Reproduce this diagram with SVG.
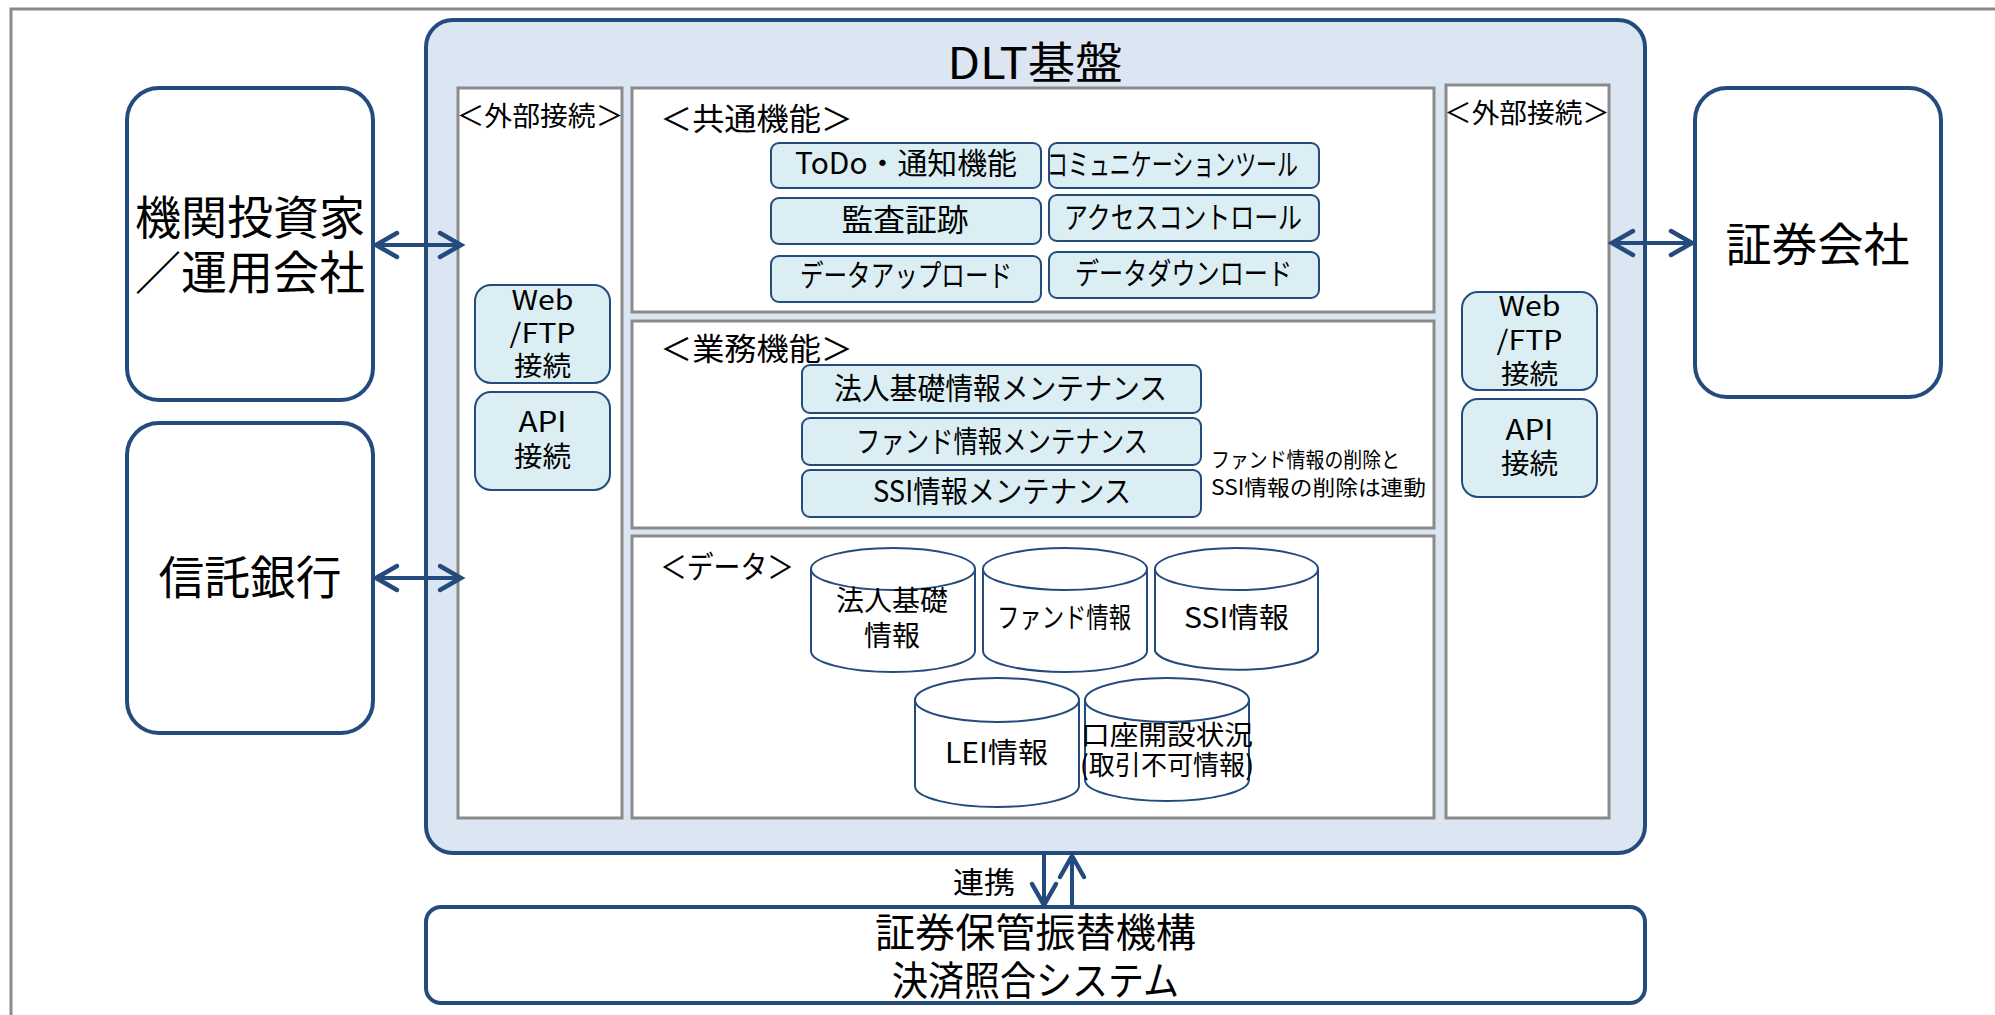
<svg xmlns="http://www.w3.org/2000/svg" width="1995" height="1015" viewBox="0 0 1995 1015">
<style>
text{font-family:"Noto Sans CJK JP","Noto Sans",sans-serif;fill:#000;dominant-baseline:central;text-anchor:middle}
.s{text-anchor:start}
.node{fill:#fff;stroke:#244b7e;stroke-width:4}
.dlt{fill:#dce6f2;stroke:#244b7e;stroke-width:4}
.sect{fill:#fff;stroke:#8a8a8a;stroke-width:3}
.fn{fill:#dbeef4;stroke:#244b7e;stroke-width:2}
.cyl{fill:#fff;stroke:#244b7e;stroke-width:2}
.conn{fill:none;stroke:#244b7e;stroke-width:4}
</style>
<defs>
<marker id="ah" markerUnits="userSpaceOnUse" markerWidth="30" markerHeight="30" refX="22" refY="13" orient="auto-start-reverse" overflow="visible">
<path d="M1,1 L22,13 L1,25" fill="none" stroke="#244b7e" stroke-width="4.5" stroke-linecap="round" stroke-linejoin="miter"/>
</marker>
</defs>
<rect x="11" y="9" width="2000" height="1020" fill="#fff" stroke="#8a8a8a" stroke-width="3"/>

<g id="dlt">
<rect class="dlt" x="426" y="20" width="1219" height="833" rx="27"/>
<text x="1035" y="60" font-size="44" textLength="175" lengthAdjust="spacingAndGlyphs">DLT基盤</text>
</g>

<g id="ext-left">
<rect class="sect" x="458" y="88" width="164" height="730"/>
<text x="540" y="114" font-size="27" textLength="167" lengthAdjust="spacingAndGlyphs">＜外部接続＞</text>
</g>
<g id="web-left">
<rect class="fn" x="475" y="285" width="135" height="98" rx="16"/>
<text x="542.5" y="298" font-size="27" textLength="62" lengthAdjust="spacingAndGlyphs">Web</text>
<text x="542.5" y="331" font-size="27" textLength="66" lengthAdjust="spacingAndGlyphs">/FTP</text>
<text x="542.5" y="364" font-size="27" textLength="57" lengthAdjust="spacingAndGlyphs">接続</text>
</g>
<g id="api-left">
<rect class="fn" x="475" y="392" width="135" height="98" rx="16"/>
<text x="542.5" y="420" font-size="28" textLength="48" lengthAdjust="spacingAndGlyphs">API</text>
<text x="542.5" y="455" font-size="28" textLength="57" lengthAdjust="spacingAndGlyphs">接続</text>
</g>

<g id="ext-right">
<rect class="sect" x="1446" y="85" width="163" height="733"/>
<text x="1527" y="111" font-size="27" textLength="166" lengthAdjust="spacingAndGlyphs">＜外部接続＞</text>
</g>
<g id="web-right">
<rect class="fn" x="1462" y="292" width="135" height="98" rx="16"/>
<text x="1529.5" y="304" font-size="27" textLength="62" lengthAdjust="spacingAndGlyphs">Web</text>
<text x="1529.5" y="338" font-size="27" textLength="66" lengthAdjust="spacingAndGlyphs">/FTP</text>
<text x="1529.5" y="372" font-size="27" textLength="57" lengthAdjust="spacingAndGlyphs">接続</text>
</g>
<g id="api-right">
<rect class="fn" x="1462" y="399" width="135" height="98" rx="16"/>
<text x="1529.5" y="428" font-size="28" textLength="48" lengthAdjust="spacingAndGlyphs">API</text>
<text x="1529.5" y="462" font-size="28" textLength="57" lengthAdjust="spacingAndGlyphs">接続</text>
</g>

<g id="common">
<rect class="sect" x="632" y="88" width="802" height="224"/>
<text class="s" x="660" y="116" font-size="31" textLength="193" lengthAdjust="spacingAndGlyphs">＜共通機能＞</text>
</g>
<g id="todo">
<rect class="fn" x="771" y="143" width="270" height="45" rx="8"/>
<text x="906" y="161" font-size="30" textLength="222" lengthAdjust="spacingAndGlyphs">ToDo・通知機能</text>
</g>
<g id="comm-tool">
<rect class="fn" x="1049" y="143" width="270" height="45" rx="8"/>
<text class="s" x="1047" y="162" font-size="30" textLength="251" lengthAdjust="spacingAndGlyphs">コミュニケーションツール</text>
</g>
<g id="audit">
<rect class="fn" x="771" y="198" width="270" height="46" rx="8"/>
<text x="905" y="217" font-size="31" textLength="127" lengthAdjust="spacingAndGlyphs">監査証跡</text>
</g>
<g id="access">
<rect class="fn" x="1049" y="195" width="270" height="46" rx="8"/>
<text x="1183" y="215" font-size="30" textLength="238" lengthAdjust="spacingAndGlyphs">アクセスコントロール</text>
</g>
<g id="upload">
<rect class="fn" x="771" y="256" width="270" height="46" rx="8"/>
<text x="906" y="273" font-size="30" textLength="212" lengthAdjust="spacingAndGlyphs">データアップロード</text>
</g>
<g id="download">
<rect class="fn" x="1049" y="252" width="270" height="46" rx="8"/>
<text x="1183.5" y="271" font-size="30" textLength="217" lengthAdjust="spacingAndGlyphs">データダウンロード</text>
</g>

<g id="business">
<rect class="sect" x="632" y="321" width="802" height="207"/>
<text class="s" x="660" y="346" font-size="31" textLength="193" lengthAdjust="spacingAndGlyphs">＜業務機能＞</text>
<text class="s" x="1211" y="458" font-size="21" textLength="189" lengthAdjust="spacingAndGlyphs">ファンド情報の削除と</text>
<text class="s" x="1211" y="486" font-size="21" textLength="215" lengthAdjust="spacingAndGlyphs">SSI情報の削除は連動</text>
</g>
<g id="corp-maint">
<rect class="fn" x="802" y="365" width="399" height="48" rx="8"/>
<text x="1000.5" y="386" font-size="30" textLength="333" lengthAdjust="spacingAndGlyphs">法人基礎情報メンテナンス</text>
</g>
<g id="fund-maint">
<rect class="fn" x="802" y="418" width="399" height="47" rx="8"/>
<text x="1002" y="439" font-size="30" textLength="292" lengthAdjust="spacingAndGlyphs">ファンド情報メンテナンス</text>
</g>
<g id="ssi-maint">
<rect class="fn" x="802" y="470" width="399" height="47" rx="8"/>
<text x="1002" y="489" font-size="30" textLength="258" lengthAdjust="spacingAndGlyphs">SSI情報メンテナンス</text>
</g>

<g id="data">
<rect class="sect" x="632" y="536" width="802" height="282"/>
<text class="s" x="660" y="564" font-size="31" textLength="134" lengthAdjust="spacingAndGlyphs">＜データ＞</text>
</g>
<g id="db-corp">
<path class="cyl" d="M811,569 V651 A82,21 0 0 0 975,651 V569"/>
<ellipse class="cyl" cx="893" cy="569" rx="82" ry="21"/>
<text x="892" y="599" font-size="28" textLength="112" lengthAdjust="spacingAndGlyphs">法人基礎</text>
<text x="892" y="634" font-size="28" textLength="56" lengthAdjust="spacingAndGlyphs">情報</text>
</g>
<g id="db-fund">
<path class="cyl" d="M983,569 V651 A82,21 0 0 0 1147,651 V569"/>
<ellipse class="cyl" cx="1065" cy="569" rx="82" ry="21"/>
<text x="1064" y="616" font-size="28" textLength="134" lengthAdjust="spacingAndGlyphs">ファンド情報</text>
</g>
<g id="db-ssi">
<path class="cyl" d="M1155,569 V651 A82,21 0 0 0 1318,651 V569"/>
<ellipse class="cyl" cx="1236.5" cy="569" rx="81.5" ry="21"/>
<text x="1236.5" y="616" font-size="28" textLength="105" lengthAdjust="spacingAndGlyphs">SSI情報</text>
</g>
<g id="db-lei">
<path class="cyl" d="M915,700 V786 A82,21 0 0 0 1079,786 V700"/>
<ellipse class="cyl" cx="997" cy="700" rx="82" ry="22"/>
<text x="996.5" y="751" font-size="28" textLength="103" lengthAdjust="spacingAndGlyphs">LEI情報</text>
</g>
<g id="db-account">
<path class="cyl" d="M1085,700 V780 A82,21 0 0 0 1249,780 V700"/>
<ellipse class="cyl" cx="1167" cy="700" rx="82" ry="22"/>
<text x="1167" y="733" font-size="27" textLength="172" lengthAdjust="spacingAndGlyphs">口座開設状況</text>
<text x="1167" y="763" font-size="27" textLength="174" lengthAdjust="spacingAndGlyphs">(取引不可情報)</text>
</g>

<g id="investor">
<rect class="node" x="127" y="88" width="246" height="312" rx="32"/>
<text x="250" y="214" font-size="46" textLength="230" lengthAdjust="spacingAndGlyphs">機関投資家</text>
<text x="250" y="269" font-size="46" textLength="230" lengthAdjust="spacingAndGlyphs">／運用会社</text>
</g>
<g id="trust-bank">
<rect class="node" x="127" y="423" width="246" height="310" rx="32"/>
<text x="250" y="574" font-size="46" textLength="183" lengthAdjust="spacingAndGlyphs">信託銀行</text>
</g>
<g id="securities">
<rect class="node" x="1695" y="88" width="246" height="309" rx="32"/>
<text x="1817.5" y="241" font-size="46" textLength="184" lengthAdjust="spacingAndGlyphs">証券会社</text>
</g>
<g id="jasdec">
<rect class="node" x="426" y="907" width="1219" height="96" rx="15"/>
<text x="1035.5" y="930" font-size="40" textLength="321" lengthAdjust="spacingAndGlyphs">証券保管振替機構</text>
<text x="1035.5" y="978" font-size="40" textLength="287" lengthAdjust="spacingAndGlyphs">決済照合システム</text>
</g>

<g id="connectors">
<line class="conn" x1="376" y1="245" x2="461" y2="245" marker-start="url(#ah)" marker-end="url(#ah)"/>
<line class="conn" x1="376" y1="578" x2="461" y2="578" marker-start="url(#ah)" marker-end="url(#ah)"/>
<line class="conn" x1="1612" y1="243" x2="1692" y2="243" marker-start="url(#ah)" marker-end="url(#ah)"/>
<line class="conn" x1="1044" y1="855" x2="1044" y2="905" marker-end="url(#ah)"/>
<line class="conn" x1="1072" y1="905" x2="1072" y2="856" marker-end="url(#ah)"/>
<text x="984" y="880" font-size="30" textLength="62" lengthAdjust="spacingAndGlyphs">連携</text>
</g>
</svg>
